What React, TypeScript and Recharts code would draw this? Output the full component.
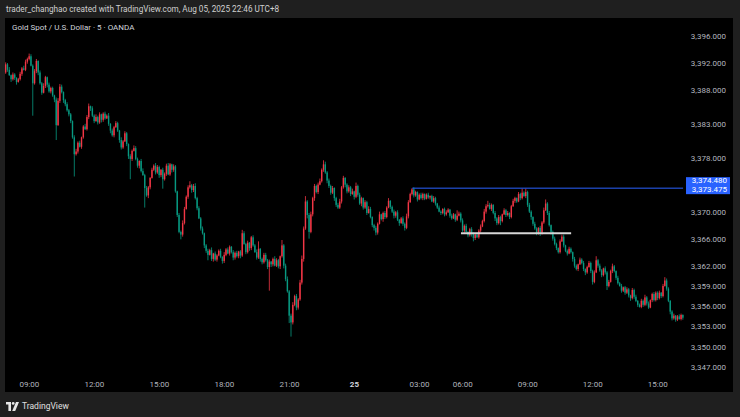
import React from 'react';
import { ComposedChart, Bar, XAxis, YAxis, ReferenceLine } from 'recharts';

// XAU/USD 5-minute candles (OANDA). Open of each bar is the previous close.
const FIRST_OPEN = 3390.6;

// Day 1, 07:55 – 10:50
const closesBlock1 = [3391.8, 3391.0, 3390.2, 3389.6, 3390.3, 3389.8, 3389.2, 3389.6, 3390.4, 3391.2, 3391.0, 3392.2, 3392.6, 3393.0, 3391.6, 3389.0, 3390.8, 3392.3, 3390.6, 3389.0, 3387.6, 3388.6, 3389.9, 3388.8, 3387.8, 3388.3, 3387.2, 3386.6, 3382.8, 3386.4, 3388.5, 3387.7, 3386.5, 3385.9, 3385.0, 3384.4];
// 10:55 – 13:50
const closesBlock2 = [3383.4, 3381.0, 3378.5, 3378.9, 3380.2, 3379.6, 3381.0, 3382.6, 3382.2, 3384.0, 3385.6, 3385.3, 3384.2, 3383.4, 3384.0, 3383.2, 3384.4, 3383.6, 3384.5, 3383.8, 3384.2, 3383.0, 3382.0, 3381.3, 3382.5, 3383.1, 3382.0, 3380.6, 3379.5, 3380.4, 3381.6, 3380.0, 3378.2, 3377.8, 3379.0, 3379.4];
// 13:55 – 16:50
const closesBlock3 = [3377.8, 3376.8, 3377.5, 3376.0, 3375.4, 3373.5, 3372.4, 3373.6, 3375.0, 3376.2, 3376.8, 3375.8, 3376.6, 3375.4, 3376.2, 3374.8, 3375.6, 3376.8, 3375.5, 3377.0, 3376.2, 3376.7, 3373.0, 3369.5, 3367.0, 3366.6, 3368.3, 3370.4, 3372.2, 3373.6, 3373.9, 3373.2, 3373.8, 3372.0, 3370.5, 3369.0];
// 16:55 – 19:50
const closesBlock4 = [3367.5, 3366.8, 3365.0, 3364.2, 3363.6, 3364.3, 3363.0, 3363.8, 3362.9, 3363.5, 3364.2, 3363.3, 3362.7, 3363.6, 3364.4, 3363.8, 3364.8, 3364.0, 3363.2, 3363.9, 3363.4, 3364.1, 3363.5, 3366.8, 3365.2, 3364.0, 3365.4, 3364.6, 3366.2, 3365.0, 3364.0, 3363.2, 3364.5, 3363.0, 3362.5, 3363.6];
// 19:55 – 22:50
const closesBlock5 = [3362.8, 3361.8, 3362.6, 3362.2, 3363.0, 3362.0, 3362.8, 3361.9, 3363.4, 3365.0, 3362.0, 3360.0, 3358.2, 3354.6, 3353.6, 3356.2, 3357.5, 3355.8, 3357.0, 3359.5, 3363.0, 3367.5, 3371.5, 3369.5, 3367.0, 3369.6, 3372.0, 3373.8, 3372.9, 3374.0, 3374.5, 3376.2, 3377.0, 3375.8, 3374.6, 3373.8];
// 22:55 – 01:50
const closesBlock6 = [3372.8, 3373.5, 3372.0, 3371.0, 3370.6, 3371.5, 3373.6, 3375.0, 3374.0, 3373.0, 3373.6, 3372.6, 3373.0, 3372.2, 3373.8, 3372.5, 3371.2, 3372.0, 3370.6, 3371.4, 3369.8, 3370.4, 3369.2, 3368.0, 3367.6, 3366.9, 3368.2, 3369.6, 3368.9, 3369.8, 3369.2, 3370.6, 3371.6, 3370.7, 3370.0, 3369.4];
// 01:55 – 04:55 (daily break follows)
const closesBlock7 = [3369.9, 3368.8, 3368.3, 3369.0, 3368.2, 3367.6, 3369.3, 3371.4, 3372.6, 3373.3, 3372.4, 3372.9, 3371.8, 3372.5, 3372.0, 3372.6, 3371.9, 3372.5, 3372.1, 3372.3, 3371.5, 3372.0, 3371.2, 3370.6, 3370.0, 3369.8, 3370.4, 3369.6, 3369.9, 3370.3, 3369.4, 3369.0, 3369.6, 3368.8, 3369.4, 3369.7, 3368.7];
// 06:00 – 08:55
const closesBlock8 = [3367.2, 3367.9, 3367.0, 3366.5, 3367.4, 3366.7, 3366.1, 3366.6, 3366.2, 3367.2, 3367.8, 3368.6, 3370.0, 3370.8, 3371.0, 3370.4, 3371.0, 3369.8, 3369.0, 3368.3, 3369.2, 3368.6, 3369.6, 3370.2, 3369.5, 3369.8, 3369.2, 3370.8, 3371.6, 3372.0, 3371.5, 3372.6, 3372.0, 3372.8, 3372.3, 3372.9];
// 09:00 – 11:55
const closesBlock9 = [3371.0, 3370.0, 3369.2, 3368.2, 3367.5, 3366.8, 3367.6, 3366.9, 3368.4, 3370.2, 3371.2, 3369.8, 3368.0, 3367.0, 3366.0, 3365.2, 3364.6, 3364.0, 3365.6, 3366.3, 3365.0, 3364.2, 3363.8, 3364.5, 3364.0, 3363.0, 3362.0, 3361.5, 3362.2, 3362.9, 3362.4, 3361.5, 3361.0, 3361.8, 3362.4, 3361.2];
// 12:00 – 14:55
const closesBlock10 = [3359.6, 3361.0, 3362.8, 3362.0, 3361.3, 3360.6, 3361.6, 3361.0, 3359.0, 3359.6, 3361.2, 3361.9, 3361.2, 3360.2, 3359.4, 3359.0, 3358.3, 3358.8, 3358.0, 3358.5, 3357.6, 3357.2, 3358.4, 3357.4, 3356.8, 3356.2, 3355.9, 3356.8, 3356.2, 3357.3, 3356.4, 3355.8, 3356.9, 3357.8, 3356.9, 3358.0];
// 15:00 – 16:10
const closesBlock11 = [3357.2, 3358.0, 3357.5, 3359.0, 3359.8, 3358.6, 3356.8, 3355.2, 3354.2, 3354.6, 3354.0, 3354.5, 3354.1, 3354.7, 3354.3];

// Upper / lower wick lengths beyond the body, in tenths of a dollar, same blocks as above
const upperWicks = [
  3, 2, 4, 1, 3, 2, 1, 2, 3, 2, 4, 3, 2, 4, 3, 2, 3, 2, 1, 3, 2, 4, 2, 1, 3, 2, 2, 1, 3, 4, 2, 3, 1, 2, 3, 2,
  2, 1, 3, 4, 2, 3, 1, 2, 4, 3, 2, 1, 3, 2, 4, 2, 3, 1, 2, 3, 2, 4, 1, 3, 2, 3, 2, 1, 4, 2, 3, 2, 1, 3, 2, 4,
  3, 2, 1, 3, 4, 2, 3, 2, 1, 3, 2, 4, 3, 2, 1, 3, 2, 3, 4, 2, 1, 3, 2, 1, 3, 2, 4, 3, 2, 3, 1, 2, 3, 4, 2, 3,
  2, 3, 1, 2, 3, 2, 4, 1, 3, 2, 2, 3, 1, 4, 2, 3, 2, 1, 3, 2, 3, 1, 2, 4, 3, 2, 3, 1, 2, 3, 2, 4, 3, 1, 2, 3,
  3, 2, 3, 1, 2, 4, 3, 2, 1, 3, 2, 3, 4, 2, 3, 4, 2, 3, 2, 4, 5, 3, 4, 2, 3, 4, 2, 3, 2, 3, 4, 2, 3, 4, 2, 3,
  2, 3, 1, 2, 3, 4, 2, 3, 1, 2, 3, 2, 4, 1, 3, 2, 3, 2, 1, 3, 2, 4, 3, 1, 2, 3, 2, 4, 1, 2, 3, 2, 3, 1, 2, 3,
  2, 3, 1, 2, 3, 2, 4, 3, 2, 1, 3, 2, 1, 2, 3, 2, 1, 2, 3, 1, 2, 3, 2, 1, 3, 2, 1, 2, 3, 2, 1, 3, 2, 1, 2, 3, 2,
  3, 2, 3, 1, 2, 3, 2, 1, 3, 2, 3, 2, 4, 3, 2, 3, 2, 1, 3, 2, 3, 2, 1, 3, 2, 3, 1, 2, 3, 2, 1, 3, 2, 3, 2, 1,
  2, 3, 2, 1, 3, 2, 1, 3, 2, 4, 3, 2, 3, 1, 2, 3, 2, 1, 3, 2, 3, 1, 2, 3, 2, 1, 3, 2, 1, 3, 2, 3, 1, 2, 3, 2,
  2, 3, 4, 2, 3, 2, 1, 3, 2, 3, 2, 3, 2, 1, 3, 2, 3, 1, 2, 3, 2, 1, 3, 2, 3, 1, 2, 3, 2, 4, 2, 3, 1, 2, 3, 2,
  2, 3, 1, 3, 2, 3, 2, 1, 2, 3, 1, 2, 3, 2, 1,
];
const lowerWicks = [
  2, 3, 1, 4, 2, 3, 4, 1, 2, 3, 1, 2, 3, 2, 1, 5, 2, 3, 4, 2, 3, 1, 3, 4, 2, 3, 2, 4, 2, 1, 3, 2, 4, 3, 2, 3,
  3, 2, 4, 2, 3, 1, 3, 2, 1, 2, 3, 4, 2, 3, 1, 3, 2, 4, 3, 2, 1, 3, 4, 2, 3, 1, 2, 4, 3, 2, 1, 3, 4, 2, 3, 1,
  2, 3, 4, 2, 1, 3, 2, 4, 3, 1, 2, 3, 2, 4, 3, 1, 2, 3, 1, 2, 4, 3, 2, 3, 2, 4, 3, 2, 1, 3, 2, 4, 3, 2, 3, 1,
  3, 2, 4, 3, 2, 1, 3, 4, 2, 3, 1, 2, 4, 3, 2, 1, 3, 2, 4, 3, 2, 3, 4, 2, 1, 3, 2, 4, 3, 2, 1, 3, 2, 4, 3, 2,
  2, 3, 2, 4, 3, 1, 2, 3, 4, 2, 4, 3, 2, 5, 4, 3, 2, 4, 3, 2, 3, 4, 2, 5, 3, 2, 3, 4, 2, 3, 1, 2, 3, 2, 4, 3,
  3, 2, 4, 3, 2, 1, 3, 2, 4, 3, 2, 3, 1, 4, 2, 3, 2, 4, 3, 2, 3, 1, 2, 3, 4, 2, 3, 1, 2, 4, 3, 2, 1, 3, 2, 4,
  3, 2, 4, 1, 3, 2, 2, 3, 1, 2, 3, 2, 3, 1, 2, 3, 2, 1, 2, 3, 1, 2, 3, 2, 1, 3, 2, 3, 2, 1, 3, 2, 1, 3, 2, 1, 3,
  2, 3, 1, 3, 2, 4, 2, 3, 1, 2, 3, 1, 2, 3, 2, 1, 3, 2, 4, 3, 2, 3, 2, 1, 3, 2, 3, 2, 1, 3, 2, 1, 3, 2, 1, 3,
  3, 2, 4, 3, 2, 3, 2, 1, 3, 2, 1, 3, 2, 4, 3, 2, 3, 4, 2, 1, 3, 2, 3, 1, 2, 4, 3, 2, 3, 1, 2, 3, 4, 2, 1, 3,
  4, 2, 1, 3, 2, 3, 2, 3, 4, 2, 1, 3, 2, 3, 2, 1, 3, 2, 3, 2, 3, 4, 2, 3, 2, 3, 1, 2, 3, 2, 3, 2, 1, 3, 2, 2,
  3, 2, 3, 2, 1, 3, 2, 4, 3, 2, 3, 2, 1, 2, 3,
];

// Long wicks that reach well beyond the bodies (bar index -> price)
const wickHighs: Record<number, number> = {
  13: 3393.4, 17: 3392.6, 30: 3388.9, 46: 3386.0, 102: 3374.5, 131: 3367.3, 140: 3365.6,
  153: 3365.8, 166: 3372.3, 176: 3377.6, 187: 3375.3, 194: 3374.3, 212: 3372.0, 225: 3373.475,
  250: 3370.2, 267: 3371.6, 286: 3373.4, 288: 3373.4, 299: 3371.8, 308: 3366.6, 327: 3363.4,
  336: 3362.3, 365: 3360.3,
};
const wickLows: Record<number, number> = {
  15: 3384.2, 28: 3380.6, 38: 3375.2, 69: 3374.8, 77: 3370.6, 87: 3373.4, 97: 3365.9,
  112: 3362.8, 146: 3358.3, 157: 3353.5, 158: 3351.5, 168: 3366.0, 185: 3370.4, 205: 3366.5,
  221: 3367.2, 259: 3365.6, 274: 3368.0, 296: 3366.4, 306: 3363.8, 333: 3358.4,
};

// Time axis
const timeTicks = [13, 49, 85, 121, 157, 193, 229, 253, 289, 325, 361];
const timeLabels = ['09:00', '12:00', '15:00', '18:00', '21:00', '25', '03:00', '06:00', '09:00', '12:00', '15:00'];

// Price axis
const priceTicks = [3396, 3392, 3388, 3383, 3378, 3370, 3366, 3362, 3359, 3356, 3353, 3350, 3347];
const priceDomain = [3346.112, 3398.665];

// Drawn levels
const resistanceLevel = 3373.475;
const resistanceAlert = 3374.48;
const resistanceFrom = 225;
const supportLevel = 3366.8;
const supportFrom = 252;
const supportTo = 313;

const UP = '#f23645';
const DOWN = '#089981';
const FONT = "Roboto, 'Noto Sans', sans-serif";

const closes = [
  ...closesBlock1, ...closesBlock2, ...closesBlock3, ...closesBlock4, ...closesBlock5,
  ...closesBlock6, ...closesBlock7, ...closesBlock8, ...closesBlock9, ...closesBlock10, ...closesBlock11,
];

const candles = closes.map((c, i) => {
  const o = i === 0 ? FIRST_OPEN : closes[i - 1];
  const h = wickHighs[i] ?? Math.max(o, c) + (upperWicks[i] ?? 0) / 10;
  const l = wickLows[i] ?? Math.min(o, c) - (lowerWicks[i] ?? 0) / 10;
  return { i, o, h, l, c, range: [l, h] };
});
const lastIndex = candles.length - 1;

const fmtPrice = (v: number) =>
  v.toLocaleString('en-US', { minimumFractionDigits: 3, maximumFractionDigits: 3 });

const Candle = (props: any) => {
  const { x, y, width, height, payload } = props;
  if (!payload || x == null) return null;
  const { o, h, l, c } = payload;
  const cx = x + width / 2;
  const span = h - l;
  const toY = (v: number) => (span > 0 ? y + ((h - v) / span) * height : y);
  const color = c >= o ? UP : DOWN;
  const top = toY(Math.max(o, c));
  const bot = toY(Math.min(o, c));
  return (
    <g>
      <line x1={cx} x2={cx} y1={y} y2={y + Math.max(height, 0.8)} stroke={color} strokeWidth={0.8} />
      <rect x={cx - 0.7} y={top} width={1.4} height={Math.max(bot - top, 0.8)} fill={color} />
    </g>
  );
};

const TimeTick = (props: any) => {
  const { x, y, payload } = props;
  const idx = timeTicks.indexOf(payload.value);
  const label = timeLabels[idx] ?? '';
  const bold = label === '25';
  return (
    <text x={x} y={y + 6} textAnchor="middle" fill={bold ? '#d1d4dc' : '#b2b5be'}
      fontSize={8} fontWeight={bold ? 700 : 400} fontFamily={FONT}>
      {label}
    </text>
  );
};

const PriceTick = (props: any) => {
  const { y, payload } = props;
  return (
    <text x={726} y={y + 3} textAnchor="end" fill="#b2b5be" fontSize={8} fontFamily={FONT}>
      {fmtPrice(payload.value)}
    </text>
  );
};

const PriceTag = (props: any) => {
  const vb = props.viewBox || {};
  const yLine = vb.y ?? 0;
  const boxX = 686;
  const boxY = yLine - 11;
  return (
    <g>
      <rect x={boxX} y={boxY} width={44} height={17} fill="#2962ff" />
      <text x={boxX + 41} y={boxY + 6} textAnchor="end" fill="#ffffff" fontSize={8} fontFamily={FONT}>
        {fmtPrice(resistanceAlert)}
      </text>
      <text x={boxX + 41} y={boxY + 14.5} textAnchor="end" fill="#ffffff" fontSize={8} fontFamily={FONT}>
        {fmtPrice(resistanceLevel)}
      </text>
    </g>
  );
};

const LogoMark = () => (
  <svg width={13} height={9} viewBox="0 0 13 9" style={{ display: 'block' }}>
    <path d="M0 0 H5 V9 H2.4 V2.6 H0 Z" fill="#e6e6e6" />
    <circle cx={7.2} cy={1.4} r={1.4} fill="#e6e6e6" />
    <path d="M10 0 H13 L9.2 9 H6.2 Z" fill="#e6e6e6" />
  </svg>
);

export default function App() {
  return (
    <div style={{ position: 'absolute', left: 0, top: 0, width: 740, height: 417, background: '#1f1f1f', overflow: 'hidden', fontFamily: FONT }}>
      <div style={{ position: 'absolute', left: 6, top: 4, fontSize: 8.2, color: '#cfcfcf', whiteSpace: 'nowrap', lineHeight: '10px' }}>
        trader_changhao created with TradingView.com, Aug 05, 2025 22:46 UTC+8
      </div>
      <div style={{ position: 'absolute', left: 5, top: 18, width: 728, height: 374, background: '#000000' }} />
      <div style={{ position: 'absolute', left: 12, top: 23, fontSize: 8, color: '#d1d4dc', whiteSpace: 'nowrap', lineHeight: '10px' }}>
        Gold Spot / U.S. Dollar · 5 · OANDA
      </div>
      <div style={{ position: 'absolute', left: 0, top: 0 }}>
        <ComposedChart width={740} height={417} data={candles}
          margin={{ top: 18, right: 7, bottom: 25, left: 5 }}>
          <XAxis dataKey="i" type="category" ticks={timeTicks} interval={0} tick={<TimeTick />}
            axisLine={false} tickLine={false} height={19} />
          <YAxis orientation="right" type="number" domain={priceDomain} allowDataOverflow
            ticks={priceTicks} interval={0} tick={<PriceTick />} axisLine={false} tickLine={false} width={49} />
          <Bar dataKey="range" shape={<Candle />} isAnimationActive={false} />
          <ReferenceLine segment={[{ x: supportFrom, y: supportLevel }, { x: supportTo, y: supportLevel }]}
            stroke="#d6d6d6" strokeWidth={2} ifOverflow="visible" />
          <ReferenceLine segment={[{ x: resistanceFrom, y: resistanceLevel }, { x: lastIndex, y: resistanceLevel }]}
            stroke="#2962ff" strokeWidth={1} ifOverflow="visible" label={<PriceTag />} />
        </ComposedChart>
      </div>
      <div style={{ position: 'absolute', left: 6, top: 401, display: 'flex', alignItems: 'center', gap: 3 }}>
        <LogoMark />
        <span style={{ fontSize: 8.5, color: '#e0e0e0', lineHeight: '10px' }}>TradingView</span>
      </div>
    </div>
  );
}
